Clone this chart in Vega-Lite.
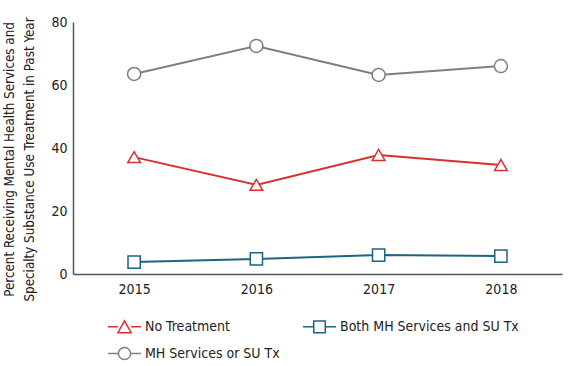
{
  "$schema": "https://vega.github.io/schema/vega-lite/v6.json",
  "autosize": {"type": "none"},
  "width": 489,
  "height": 252,
  "padding": {"left": 73, "top": 22, "right": 8, "bottom": 92},
  "config": {
    "font": "DejaVu Sans Condensed",
    "view": {"stroke": null},
    "axis": {"labelFont": "DejaVu Sans Condensed", "titleFont": "DejaVu Sans Condensed", "labelColor": "#222", "titleColor": "#222", "domainColor": "#555", "domainWidth": 1.5, "grid": false, "ticks": false}
  },
  "data": {
    "values": [
      {"year": "2015", "group": "No Treatment", "value": 37.1},
      {"year": "2016", "group": "No Treatment", "value": 28.3},
      {"year": "2017", "group": "No Treatment", "value": 37.8},
      {"year": "2018", "group": "No Treatment", "value": 34.6},
      {"year": "2015", "group": "Both MH Services and SU Tx", "value": 3.8},
      {"year": "2016", "group": "Both MH Services and SU Tx", "value": 4.8},
      {"year": "2017", "group": "Both MH Services and SU Tx", "value": 6.0},
      {"year": "2018", "group": "Both MH Services and SU Tx", "value": 5.7},
      {"year": "2015", "group": "MH Services or SU Tx", "value": 63.5},
      {"year": "2016", "group": "MH Services or SU Tx", "value": 72.4},
      {"year": "2017", "group": "MH Services or SU Tx", "value": 63.2},
      {"year": "2018", "group": "MH Services or SU Tx", "value": 66.0}
    ]
  },
  "encoding": {
    "x": {"field": "year", "type": "ordinal", "scale": {"type": "point", "padding": 0.5},
      "axis": {"title": null, "labelAngle": 0, "labelFontSize": 14, "labelPadding": 8}},
    "y": {"field": "value", "type": "quantitative", "scale": {"domain": [0, 80]},
      "axis": {"values": [0, 20, 40, 60, 80], "title": ["Percent Receiving Mental Health Services and", "Specialty Substance Use Treatment in Past Year"], "titleFontSize": 13.3, "titleFontWeight": "normal", "titleY": 137, "labelFontSize": 14, "labelPadding": 6, "titlePadding": 14, "titleLineHeight": 20}},
    "color": {"field": "group", "type": "nominal",
      "scale": {"domain": ["No Treatment", "Both MH Services and SU Tx", "MH Services or SU Tx"], "range": ["#d9302f", "#1d6382", "#7f7f7f"]},
      "legend": {
        "orient": "none", "legendX": 34, "legendY": 287, "title": null, "columns": 2, "direction": "horizontal",
        "columnPadding": 20, "rowPadding": -4, "labelFontSize": 14, "labelFont": "DejaVu Sans Condensed", "labelColor": "#222", "labelLimit": 400,
        "symbolSize": 1089, "symbolStrokeWidth": 1.5, "labelOffset": 3, "symbolFillColor": "white",
        "encode": {"symbols": {"update": {
          "shape": {"signal": "datum.value == 'No Treatment' ? 'M-1,0H-0.4M0.4,0H1M0,-0.36L0.4,0.36L-0.4,0.36Z' : datum.value == 'MH Services or SU Tx' ? 'M-1,0H-0.37M0.37,0H1M-0.37,0A0.37,0.37,0,1,1,0.37,0A0.37,0.37,0,1,1,-0.37,0Z' : 'M-1,0H-0.35M0.35,0H1M-0.35,-0.35H0.35V0.35H-0.35Z'"},
          "fill": {"value": "white"},
          "strokeWidth": {"value": 1.5}
        }}}
      }
    }
  },
  "layer": [
    {
      "mark": {"type": "line", "strokeWidth": 2}
    },
    {
      "transform": [{"filter": "datum.group == 'No Treatment'"}],
      "mark": {"type": "point", "shape": "triangle-up", "filled": false, "fill": "white", "fillOpacity": 1, "strokeWidth": 1.5, "size": 160, "opacity": 1}
    },
    {
      "transform": [{"filter": "datum.group == 'Both MH Services and SU Tx'"}],
      "mark": {"type": "point", "shape": "square", "filled": false, "fill": "white", "fillOpacity": 1, "strokeWidth": 1.5, "size": 150, "opacity": 1}
    },
    {
      "transform": [{"filter": "datum.group == 'MH Services or SU Tx'"}],
      "mark": {"type": "point", "shape": "circle", "filled": false, "fill": "white", "fillOpacity": 1, "strokeWidth": 1.5, "size": 170, "opacity": 1}
    }
  ]
}
